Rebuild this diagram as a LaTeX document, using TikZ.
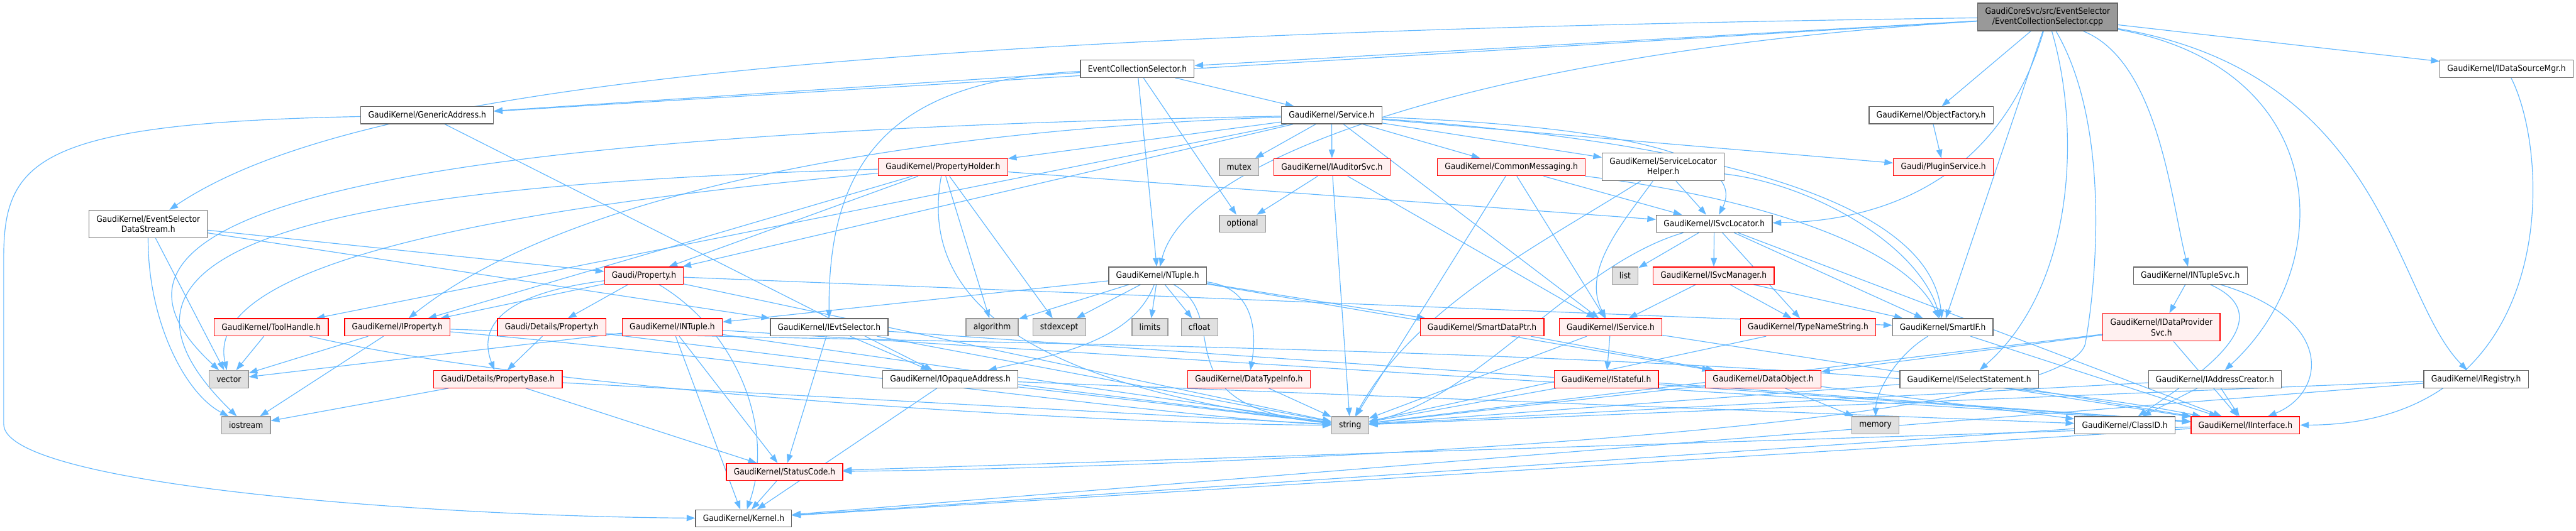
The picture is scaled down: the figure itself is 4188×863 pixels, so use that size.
\documentclass[tikz,border=0pt]{standalone}
\usepackage{fontspec}
\setmainfont{DejaVu Sans Condensed}
\usepackage{xcolor}
\usetikzlibrary{arrows.meta, positioning, backgrounds}

\definecolor{edgeblue}{HTML}{63B8FF}
\definecolor{truncfill}{HTML}{FFF0F0}
\definecolor{sysfill}{HTML}{E0E0E0}
\definecolor{sysline}{HTML}{999999}
\definecolor{boxline}{HTML}{666666}

\begin{document}
\begin{tikzpicture}[
        x=1pt, y=-1pt,
        filebox/.style={
            rectangle,
            draw=boxline,
            fill=white,
            line width=1.3pt,
            minimum height=28pt,
            inner xsep=12pt,
            inner ysep=0pt,
            align=center,
            font=\fontsize{14}{16.7}\selectfont
        },
        truncbox/.style={filebox, draw=red, fill=truncfill},
        sysbox/.style={filebox, draw=sysline, fill=sysfill},
        rootbox/.style={filebox, fill=sysline, minimum height=45pt},
        tallbox/.style={minimum height=45pt},
        incl/.style={draw=edgeblue, line width=1.2pt, -{Triangle[length=14pt, width=10pt]}}
    ]
        \useasboundingbox (0,0) rectangle (4188,863);

        % row 0 and 1
        \node[rootbox] (root) at (3329,27.5) {GaudiCoreSvc/src/EventSelector\\/EventCollectionSelector.cpp};
        \node[filebox] (ecs) at (1849,112) {EventCollectionSelector.h};
        \node[filebox] (dsm) at (4075,112) {GaudiKernel/IDataSourceMgr.h};

        % row 2
        \node[filebox] (gaddr) at (694.5,187.5) {GaudiKernel/GenericAddress.h};
        \node[filebox] (svc) at (2165,187.5) {GaudiKernel/Service.h};
        \node[filebox] (ofac) at (3139.5,187.5) {GaudiKernel/ObjectFactory.h};

        % row 3
        \node[truncbox] (pholder) at (1533,272) {GaudiKernel/PropertyHolder.h};
        \node[sysbox] (mutex) at (2014.5,272) {mutex};
        \node[truncbox] (auditor) at (2165.5,272) {GaudiKernel/IAuditorSvc.h};
        \node[truncbox] (cmsg) at (2457,272) {GaudiKernel/CommonMessaging.h};
        \node[filebox, tallbox] (slh) at (2704,271.5) {GaudiKernel/ServiceLocator\\Helper.h};
        \node[truncbox] (plugin) at (3159.5,272) {Gaudi/PluginService.h};

        % row 4
        \node[filebox, tallbox] (esds) at (241,364.5) {GaudiKernel/EventSelector\\DataStream.h};
        \node[sysbox] (optional) at (2020,364) {optional};
        \node[filebox] (isvcloc) at (2787,364) {GaudiKernel/ISvcLocator.h};

        % row 5
        \node[truncbox] (prop) at (1047,448.5) {Gaudi/Property.h};
        \node[filebox] (ntuple) at (1882,448.5) {GaudiKernel/NTuple.h};
        \node[sysbox] (list) at (2642,448.5) {list};
        \node[truncbox] (isvcmgr) at (2786,448.5) {GaudiKernel/ISvcManager.h};
        \node[filebox] (ntsvc) at (3561,448.5) {GaudiKernel/INTupleSvc.h};

        % row 6
        \node[truncbox] (tool) at (441,532.5) {GaudiKernel/ToolHandle.h};
        \node[truncbox] (iprop) at (646,532.5) {GaudiKernel/IProperty.h};
        \node[truncbox] (dprop) at (897,532.5) {Gaudi/Details/Property.h};
        \node[truncbox] (intuple) at (1093,532.5) {GaudiKernel/INTuple.h};
        \node[filebox] (evtsel) at (1348,532.5) {GaudiKernel/IEvtSelector.h};
        \node[sysbox] (algorithm) at (1613,532.5) {algorithm};
        \node[sysbox] (stdexcept) at (1722,532.5) {stdexcept};
        \node[sysbox] (limits) at (1869.5,532.5) {limits};
        \node[sysbox] (cfloat) at (1950,532.5) {cfloat};
        \node[truncbox] (sdptr) at (2409.5,532.5) {GaudiKernel/SmartDataPtr.h};
        \node[truncbox] (iservice) at (2618.5,532.5) {GaudiKernel/IService.h};
        \node[truncbox] (tns) at (2939.5,532.5) {GaudiKernel/TypeNameString.h};
        \node[filebox] (smartif) at (3158.5,532.5) {GaudiKernel/SmartIF.h};
        \node[truncbox, tallbox] (idps) at (3514,532.5) {GaudiKernel/IDataProvider\\Svc.h};

        % row 7
        \node[sysbox] (vector) at (372,617) {vector};
        \node[truncbox] (pbase) at (809.5,617) {Gaudi/Details/PropertyBase.h};
        \node[filebox] (opaque) at (1545,617) {GaudiKernel/IOpaqueAddress.h};
        \node[truncbox] (dtinfo) at (2030.5,617) {GaudiKernel/DataTypeInfo.h};
        \node[truncbox] (istateful) at (2611.5,617) {GaudiKernel/IStateful.h};
        \node[truncbox] (dobj) at (2866.5,617) {GaudiKernel/DataObject.h};
        \node[filebox] (isel) at (3201.5,617) {GaudiKernel/ISelectStatement.h};
        \node[filebox] (iaddr) at (3601,617) {GaudiKernel/IAddressCreator.h};
        \node[filebox] (ireg) at (4025.5,617) {GaudiKernel/IRegistry.h};

        % row 8 to 10
        \node[sysbox] (iostream) at (400,692) {iostream};
        \node[sysbox] (string) at (2195,692) {string};
        \node[sysbox] (memory) at (3049,692) {memory};
        \node[filebox] (classid) at (3454.5,692) {GaudiKernel/ClassID.h};
        \node[truncbox] (iiface) at (3650.5,692) {GaudiKernel/IInterface.h};
        \node[truncbox] (status) at (1275.5,768) {GaudiKernel/StatusCode.h};
        \node[filebox] (kernel) at (1209,843.5) {GaudiKernel/Kernel.h};

        \begin{scope}[on background layer]
            % the .cpp file
            \draw[incl] (root) -- (ecs);
            \draw[incl] (root) .. controls (1300,55) and (560,150) .. (esds);
            \draw[incl] (root) -- (gaddr);
            \draw[incl] (root) .. controls (2400,85) and (1930,260) .. (ntuple);
            \draw[incl] (root) -- (ofac);
            \draw[incl] (root) .. controls (3250,300) and (3050,360) .. (isvcloc);
            \draw[incl] (root) -- (smartif);
            \draw[incl] (root) .. controls (3385,220) and (3370,470) .. (isel);
            \draw[incl] (root) .. controls (3430,200) and (3410,450) .. (3390,560) .. controls (3350,700) and (2000,760) .. (status);
            \draw[incl] (root) .. controls (3510,100) and (3530,330) .. (ntsvc);
            \draw[incl] (root) -- (dsm);
            \draw[incl] (root) .. controls (3790,110) and (3805,430) .. (iaddr);
            \draw[incl] (root) .. controls (3880,120) and (3890,480) .. (ireg);

            % EventCollectionSelector.h
            \draw[incl] (ecs) -- (svc);
            \draw[incl] (ecs) -- (ntuple);
            \draw[incl] (ecs) -- (optional);
            \draw[incl] (ecs) .. controls (1450,130) and (1346,260) .. (evtsel);
            \draw[incl] (ecs) -- (gaddr);

            \draw[incl] (dsm) .. controls (4150,260) and (4160,690) .. (iiface);
            \draw[incl] (gaddr) -- (opaque);
            \draw[incl] (gaddr) .. controls (60,200) and (6,260) .. (6,420) -- (6,690) .. controls (6,790) and (700,840) .. (kernel);
            \draw[incl] (ofac) -- (plugin);

            % Service.h
            \draw[incl] (svc) -- (pholder);
            \draw[incl] (svc) -- (mutex);
            \draw[incl] (svc) -- (auditor);
            \draw[incl] (svc) -- (cmsg);
            \draw[incl] (svc) -- (slh);
            \draw[incl] (svc) .. controls (2750,210) and (2830,280) .. (isvcloc);
            \draw[incl] (svc) .. controls (2900,240) and (3140,360) .. (smartif);
            \draw[incl] (svc) -- (plugin);
            \draw[incl] (svc) -- (iservice);
            \draw[incl] (svc) .. controls (700,215) and (60,330) .. (vector);
            \draw[incl] (svc) -- (tool);
            \draw[incl] (svc) .. controls (1400,215) and (900,330) .. (iprop);
            \draw[incl] (svc) -- (prop);

            % PropertyHolder.h
            \draw[incl] (pholder) -- (prop);
            \draw[incl] (pholder) -- (iprop);
            \draw[incl] (pholder) -- (isvcloc);
            \draw[incl] (pholder) .. controls (800,340) and (330,430) .. (vector);
            \draw[incl] (pholder) .. controls (600,300) and (80,380) .. (iostream);
            \draw[incl] (pholder) .. controls (1500,450) and (1600,620) .. (string);
            \draw[incl] (pholder) -- (algorithm);
            \draw[incl] (pholder) -- (stdexcept);

            \draw[incl] (auditor) -- (optional);
            \draw[incl] (auditor) -- (string);
            \draw[incl] (auditor) -- (iservice);

            \draw[incl] (cmsg) -- (isvcloc);
            \draw[incl] (cmsg) .. controls (2850,320) and (3100,400) .. (smartif);
            \draw[incl] (cmsg) -- (string);
            \draw[incl] (cmsg) -- (iservice);

            \draw[incl] (slh) -- (isvcloc);
            \draw[incl] (slh) .. controls (2640,360) and (2570,440) .. (iservice);
            \draw[incl] (slh) .. controls (2500,400) and (2300,500) .. (string);
            \draw[incl] (slh) .. controls (2950,300) and (3120,400) .. (smartif);

            % EventSelectorDataStream.h
            \draw[incl] (esds) -- (prop);
            \draw[incl] (esds) -- (evtsel);
            \draw[incl] (esds) -- (vector);
            \draw[incl] (esds) .. controls (240,520) and (300,640) .. (iostream);

            % ISvcLocator.h and ISvcManager.h
            \draw[incl] (isvcloc) .. controls (2560,430) and (2400,650) .. (string);
            \draw[incl] (isvcloc) -- (list);
            \draw[incl] (isvcloc) -- (isvcmgr);
            \draw[incl] (isvcloc) -- (tns);
            \draw[incl] (isvcloc) -- (smartif);
            \draw[incl] (isvcloc) -- (iiface);
            \draw[incl] (isvcmgr) -- (iservice);
            \draw[incl] (isvcmgr) -- (tns);
            \draw[incl] (isvcmgr) -- (smartif);

            \draw[incl] (ntsvc) -- (idps);
            \draw[incl] (ntsvc) .. controls (3720,520) and (3560,620) .. (classid);
            \draw[incl] (ntsvc) .. controls (3800,520) and (3780,640) .. (iiface);

            % NTuple.h
            \draw[incl] (ntuple) -- (intuple);
            \draw[incl] (ntuple) -- (algorithm);
            \draw[incl] (ntuple) -- (stdexcept);
            \draw[incl] (ntuple) -- (limits);
            \draw[incl] (ntuple) -- (cfloat);
            \draw[incl] (ntuple) .. controls (1840,560) and (1700,580) .. (opaque);
            \draw[incl] (ntuple) .. controls (2050,470) and (2040,560) .. (dtinfo);
            \draw[incl] (ntuple) .. controls (2010,520) and (1880,660) .. (string);
            \draw[incl] (ntuple) -- (sdptr);
            \draw[incl] (ntuple) -- (dobj);

            \draw[incl] (tool) -- (vector);
            \draw[incl] (tool) .. controls (900,640) and (1800,690) .. (string);

            \draw[incl] (iprop) -- (vector);
            \draw[incl] (iprop) -- (iostream);
            \draw[incl] (iprop) .. controls (1200,580) and (1900,680) .. (string);
            \draw[incl] (iprop) .. controls (1400,560) and (3000,560) .. (iiface);

            % Gaudi/Property.h
            \draw[incl] (prop) -- (dprop);
            \draw[incl] (prop) .. controls (800,480) and (780,540) .. (pbase);
            \draw[incl] (prop) -- (iprop);
            \draw[incl] (prop) .. controls (1200,540) and (1260,700) .. (kernel);
            \draw[incl] (prop) -- (smartif);
            \draw[incl] (prop) -- (string);

            \draw[incl] (dprop) -- (pbase);
            \draw[incl] (dprop) -- (string);

            \draw[incl] (intuple) -- (status);
            \draw[incl] (intuple) -- (kernel);
            \draw[incl] (intuple) -- (string);
            \draw[incl] (intuple) -- (vector);
            \draw[incl] (intuple) -- (iiface);

            \draw[incl] (evtsel) -- (status);
            \draw[incl] (evtsel) -- (opaque);
            \draw[incl] (evtsel) -- (iiface);
            \draw[incl] (evtsel) -- (string);

            \draw[incl] (pbase) -- (status);
            \draw[incl] (pbase) -- (iostream);
            \draw[incl] (pbase) -- (string);

            \draw[incl] (opaque) -- (kernel);
            \draw[incl] (opaque) -- (string);
            \draw[incl] (opaque) -- (classid);

            \draw[incl] (dtinfo) -- (string);
            \draw[incl] (sdptr) -- (dobj);

            \draw[incl] (iservice) -- (istateful);
            \draw[incl] (iservice) -- (string);
            \draw[incl] (iservice) -- (iiface);

            \draw[incl] (tns) -- (string);
            \draw[incl] (smartif) .. controls (3080,580) and (3050,640) .. (memory);
            \draw[incl] (smartif) -- (iiface);

            \draw[incl] (idps) -- (dobj);
            \draw[incl] (idps) -- (iiface);
            \draw[incl] (idps) -- (string);

            \draw[incl] (istateful) -- (iiface);
            \draw[incl] (istateful) -- (string);

            \draw[incl] (dobj) -- (memory);
            \draw[incl] (dobj) -- (classid);
            \draw[incl] (dobj) -- (string);

            \draw[incl] (isel) -- (string);
            \draw[incl] (isel) -- (iiface);

            \draw[incl] (iaddr) -- (classid);
            \draw[incl] (iaddr) -- (iiface);
            \draw[incl] (iaddr) -- (string);

            \draw[incl] (ireg) -- (string);
            \draw[incl] (ireg) -- (kernel);

            % bottom of the graph
            \draw[incl] (classid) -- (kernel);
            \draw[incl] (iiface) -- (status);
            \draw[incl] (iiface) -- (kernel);
            \draw[incl] (status) -- (kernel);
        \end{scope}
\end{tikzpicture}
\end{document}
